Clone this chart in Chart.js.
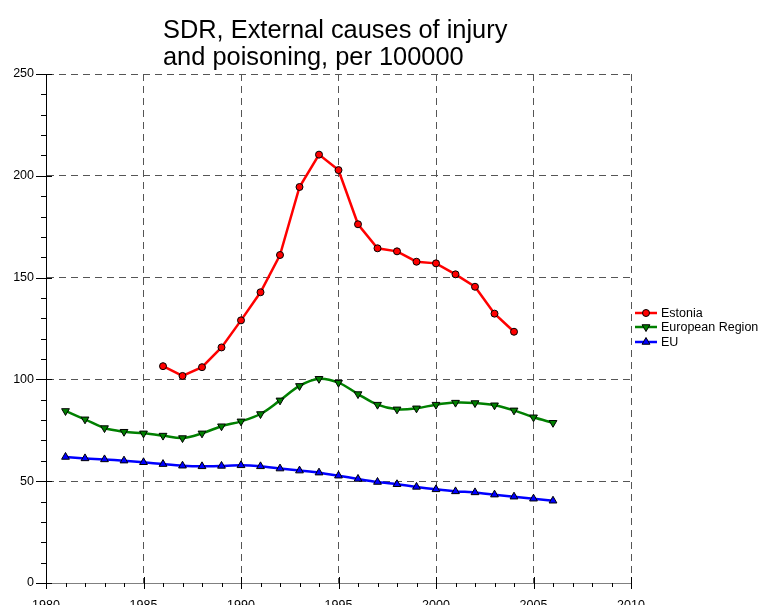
<!DOCTYPE html>
<html>
<head>
<meta charset="utf-8">
<script src="https://cdn.jsdelivr.net/npm/chart.js@4.4.1/dist/chart.umd.min.js"></script>
<style>
html,body{margin:0;padding:0;background:#fff;overflow:hidden;width:761px;height:605px;}
#wrap{position:absolute;left:0;top:0;width:761px;height:620px;}
</style>
</head>
<body>
<div id="wrap"><canvas id="c" width="761" height="620"></canvas></div>
<script>
const titleLines = ["SDR, External causes of injury", "and poisoning, per 100000"];
const seriesNames = ["Estonia", "European Region", "EU"];
const estoniaYears = [1986,1987,1988,1989,1990,1991,1992,1993,1994,1995,1996,1997,1998,1999,2000,2001,2002,2003,2004];
const estoniaValues = [106.5,101.7,106.0,115.7,129.0,142.8,161.1,194.5,210.4,202.8,176.2,164.4,162.9,157.8,157.0,151.6,145.5,132.3,123.4];
const europeYears = [1981,1982,1983,1984,1985,1986,1987,1988,1989,1990,1991,1992,1993,1994,1995,1996,1997,1998,1999,2000,2001,2002,2003,2004,2005,2006];
const europeValues = [84.5,80.4,76.1,74.3,73.5,72.4,71.2,73.5,77.0,79.4,83.0,89.7,96.8,100.3,98.4,92.8,87.6,85.3,85.8,87.6,88.6,88.4,87.3,84.8,81.4,78.7];
const euYears = [1981,1982,1983,1984,1985,1986,1987,1988,1989,1990,1991,1992,1993,1994,1995,1996,1997,1998,1999,2000,2001,2002,2003,2004,2005,2006];
const euValues = [61.9,61.2,60.7,60.1,59.3,58.4,57.6,57.3,57.5,57.8,57.3,56.2,55.2,54.2,52.7,51.1,49.6,48.5,47.2,46.0,45.0,44.5,43.4,42.4,41.4,40.4];
const xTickValues = [1980,1985,1990,1995,2000,2005,2010];
const yTickValues = [0,50,100,150,200,250];

const FONT = "'Liberation Sans', Arial, sans-serif";
const toXY = (xs, ys) => xs.map((x, i) => ({x: x, y: ys[i]}));

const styles = [
  {color: '#ff0000', point: 'circle', radius: 3.5, rotation: 0, tension: 0},
  {color: '#008000', point: 'triangle', radius: 4.5, rotation: 180, tension: 0.35},
  {color: '#0000ff', point: 'triangle', radius: 4.5, rotation: 0, tension: 0.2}
];

function drawMarker(ctx, style, x, y) {
  ctx.save();
  ctx.fillStyle = style.color;
  ctx.strokeStyle = '#000';
  ctx.lineWidth = 1;
  ctx.beginPath();
  if (style.point === 'circle') {
    ctx.arc(x, y, style.radius, 0, Math.PI * 2);
  } else {
    const r = style.radius;
    const rot = style.rotation * Math.PI / 180;
    for (let k = 0; k < 3; k++) {
      const a = rot - Math.PI / 2 + k * 2 * Math.PI / 3;
      const px = x + Math.cos(a) * r, py = y + Math.sin(a) * r;
      if (k === 0) ctx.moveTo(px, py); else ctx.lineTo(px, py);
    }
    ctx.closePath();
  }
  ctx.fill();
  ctx.stroke();
  ctx.restore();
}

const decor = {
  id: 'decor',
  afterDraw(chart) {
    const ctx = chart.ctx;
    const xs = chart.scales.x, ys = chart.scales.y;
    const left = chart.chartArea.left, bottom = chart.chartArea.bottom;
    ctx.save();
    ctx.strokeStyle = '#000';
    ctx.lineWidth = 1;
    ctx.beginPath();
    for (let v = 0; v <= 250; v += 10) {
      const py = Math.round(ys.getPixelForValue(v)) + 0.5;
      if (v % 50 === 0) { ctx.moveTo(left - 10, py); ctx.lineTo(left + 6, py); }
      else { ctx.moveTo(left - 5, py); ctx.lineTo(left, py); }
    }
    for (let v = 1980; v <= 2010; v += 1) {
      const px = Math.round(xs.getPixelForValue(v)) + 0.5;
      if (v % 5 === 0) { ctx.moveTo(px, bottom - 6); ctx.lineTo(px, bottom + 6); }
      else { ctx.moveTo(px, bottom); ctx.lineTo(px, bottom + 4); }
    }
    ctx.stroke();
    ctx.fillStyle = '#000';
    ctx.font = '25.4px ' + FONT;
    ctx.textAlign = 'left';
    ctx.textBaseline = 'alphabetic';
    ctx.fillText(titleLines[0], 163, 38);
    ctx.fillText(titleLines[1], 163, 65);
    const rows = [313, 327, 342];
    ctx.font = '12.5px ' + FONT;
    ctx.textBaseline = 'middle';
    seriesNames.forEach((name, i) => {
      const st = styles[i];
      const y = rows[i];
      ctx.strokeStyle = st.color;
      ctx.lineWidth = 2.5;
      ctx.beginPath();
      ctx.moveTo(635, y); ctx.lineTo(657, y);
      ctx.stroke();
      drawMarker(ctx, st, 646, y);
      ctx.fillStyle = '#000';
      ctx.fillText(name, 661, y + 0.5);
    });
    ctx.restore();
  }
};

const gridCommon = {
  color: '#555555',
  lineWidth: 1,
  drawTicks: false
};

new Chart(document.getElementById('c'), {
  type: 'line',
  data: {
    datasets: [
      {label: seriesNames[0], data: toXY(estoniaYears, estoniaValues)},
      {label: seriesNames[1], data: toXY(europeYears, europeValues)},
      {label: seriesNames[2], data: toXY(euYears, euValues)}
    ].map((d, i) => Object.assign(d, {
      borderColor: styles[i].color,
      backgroundColor: styles[i].color,
      pointBackgroundColor: styles[i].color,
      pointBorderColor: '#000',
      pointBorderWidth: 1,
      pointStyle: styles[i].point,
      pointRotation: styles[i].rotation,
      pointRadius: styles[i].radius,
      borderWidth: 2.5,
      tension: styles[i].tension,
      fill: false
    }))
  },
  options: {
    responsive: false,
    animation: false,
    devicePixelRatio: 1,
    layout: {padding: {top: 74, right: 130, left: 0, bottom: 0}},
    plugins: {legend: {display: false}, title: {display: false}, tooltip: {enabled: false}},
    scales: {
      x: {
        type: 'linear', min: 1980, max: 2010,
        afterBuildTicks: s => { s.ticks = xTickValues.map(v => ({value: v})); },
        afterFit: s => { s.height = 37; },
        ticks: {color: '#000', font: {size: 12.5, family: FONT}, padding: 15, maxRotation: 0, autoSkip: false,
                callback: v => String(v)},
        grid: Object.assign({}, gridCommon),
        border: {display: true, color: '#808080', width: 1, dash: [7, 5]}
      },
      y: {
        type: 'linear', min: 0, max: 250,
        afterBuildTicks: s => { s.ticks = yTickValues.map(v => ({value: v})); },
        afterFit: s => { s.width = 46; },
        ticks: {color: '#000', font: {size: 12.5, family: FONT}, padding: 12, callback: v => String(v)},
        grid: Object.assign({}, gridCommon),
        border: {display: true, color: '#000', width: 1, dash: [7, 5]}
      }
    }
  },
  plugins: [decor]
});
</script>
</body>
</html>
